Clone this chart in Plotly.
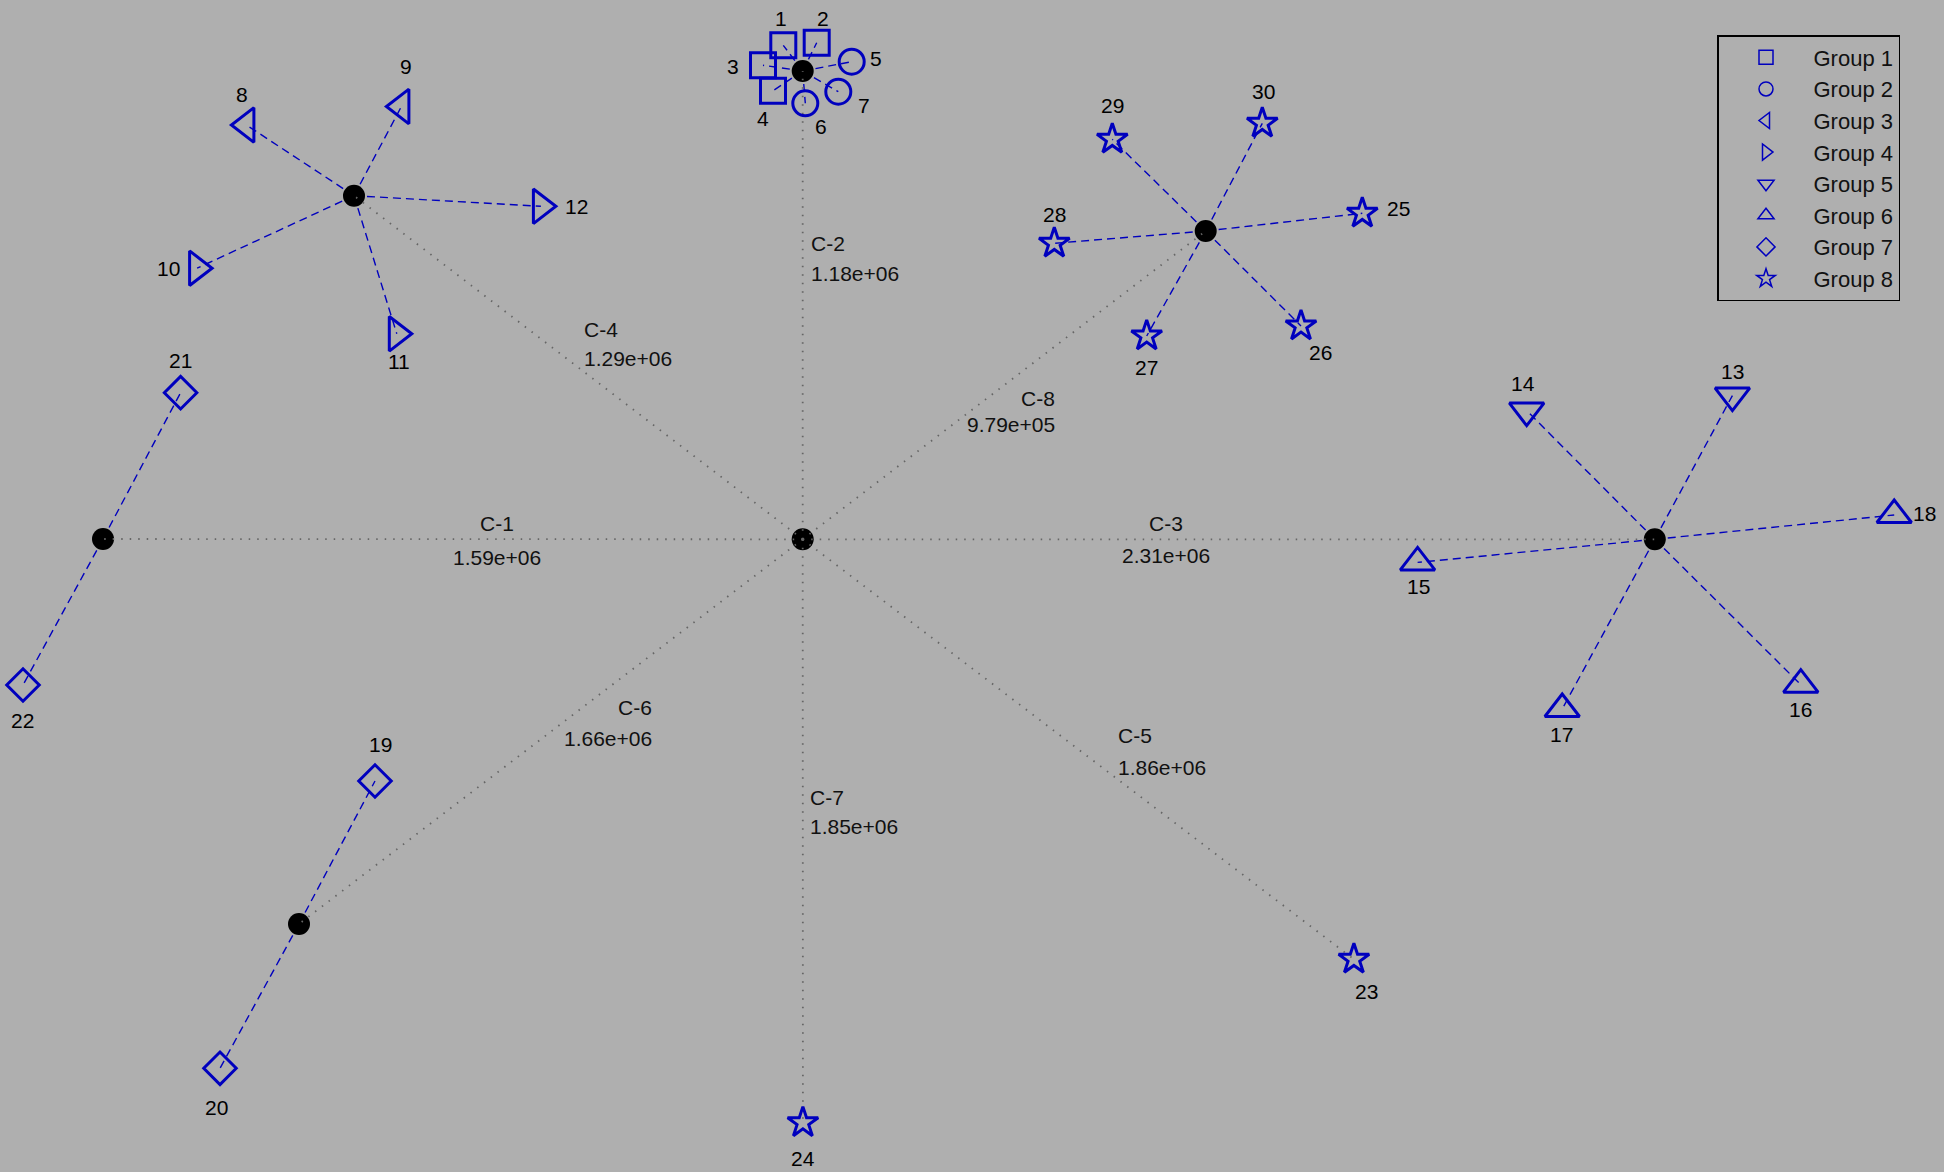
import plotly.graph_objects as go

# ---------------- data ----------------
point_ids = list(range(1, 31))
point_group = [1, 1, 1, 1, 2, 2, 2, 3, 3, 4, 4, 4, 5, 5, 6, 6, 6, 6,
               7, 7, 7, 7, 8, 8, 8, 8, 8, 8, 8, 8]
point_x = [783.3, 816.7, 763.0, 773.0, 851.7, 805.3, 838.3,
           246.4, 401.4, 197.1, 396.8, 540.9,
           1732.4, 1526.7, 1417.6, 1800.8, 1562.2, 1894.2,
           375.0, 220.0, 180.6, 23.0,
           1353.9, 802.9, 1362.3, 1301.0, 1146.7, 1054.3, 1112.3, 1262.3]
point_y = [45.3, 42.7, 65.3, 90.7, 61.7, 103.3, 91.7,
           125.0, 106.5, 268.2, 333.8, 206.3,
           395.6, 410.6, 562.4, 684.7, 709.0, 515.0,
           781.0, 1068.3, 392.7, 685.0,
           959.3, 1122.7, 213.3, 326.0, 336.0, 243.3, 139.3, 123.3]

cluster_names = ["C-1", "C-2", "C-3", "C-4", "C-5", "C-6", "C-7", "C-8"]
cluster_members = [[21, 22], [1, 2, 3, 4, 5, 6, 7], [13, 14, 15, 16, 17, 18],
                   [8, 9, 10, 11, 12], [23], [19, 20], [24],
                   [25, 26, 27, 28, 29, 30]]
cluster_x = [103.0, 802.7, 1654.8, 354.0, 1353.9, 299.0, 802.9, 1205.7]
cluster_y = [539.0, 71.0, 539.3, 195.7, 959.3, 924.0, 1122.7, 231.0]
cluster_dist = ["1.59e+06", "1.18e+06", "2.31e+06", "1.29e+06",
                "1.86e+06", "1.66e+06", "1.85e+06", "9.79e+05"]
center_x = [802.7]
center_y = [539.3]

group_names = ["Group %d" % k for k in range(1, 9)]

# ---------------- styles ----------------
BLUE = "#0000BE"
BG = "#AFAFAF"
FONT = "Liberation Sans, Arial, sans-serif"
FS = 21
group_symbol = {1: "square-open", 2: "circle-open", 3: "triangle-left-open",
                4: "triangle-right-open", 5: "triangle-down-open",
                6: "triangle-up-open", 7: "diamond-open", 8: "star-open"}
group_size = {1: 25, 2: 25, 3: 30, 4: 30, 5: 30, 6: 30, 7: 25, 8: 23}
# label offsets (px, right / down) for point number labels
label_offset = [(-2, -27), (6, -24), (-30, 1), (-10, 28), (24, -3), (16, 23), (26, 14),
                (-4, -31), (5, -40), (-29, 0), (2, 28), (36, 0),
                (0, -24), (-4, -27), (1, 24), (0, 25), (-1, 25), (30, -2),
                (5, -37), (-4, 39), (0, -32), (-1, 35),
                (13, 32), (0, 36), (36, -5), (19, 26), (0, 31), (0, -29), (0, -34), (1, -32)]
# cluster label anchors: (x, y of first row, y of second row, align)
cluster_label_pos = [(497, 523, 557, "center"), (809, 243, 273, "left"),
                     (1166, 523, 555, "center"), (582, 329, 358, "left"),
                     (1116, 735, 767, "left"), (654, 707, 738, "right"),
                     (808, 797, 826, "left"), (1057, 398, 424, "right")]

fig = go.Figure()

# dashed member lines
lx, ly = [], []
for ci, members in enumerate(cluster_members):
    if len(members) < 2:
        continue
    for m in members:
        i = point_ids.index(m)
        lx += [cluster_x[ci], point_x[i], None]
        ly += [cluster_y[ci], point_y[i], None]
fig.add_trace(go.Scatter(x=lx, y=ly, mode="lines", showlegend=False, hoverinfo="skip",
                         line=dict(color=BLUE, width=1.4, dash="8px,5px")))

# centroid dots
cx = [cluster_x[i] for i, m in enumerate(cluster_members) if len(m) > 1] + center_x
cy = [cluster_y[i] for i, m in enumerate(cluster_members) if len(m) > 1] + center_y
fig.add_trace(go.Scatter(x=cx, y=cy, mode="markers", showlegend=False, hoverinfo="skip",
                         marker=dict(symbol="circle", size=22, color="black",
                                     line=dict(width=0))))

# dotted lines from the center
dx, dy = [], []
for i in range(len(cluster_names)):
    dx += [center_x[0], cluster_x[i], None]
    dy += [center_y[0], cluster_y[i], None]
fig.add_trace(go.Scatter(x=dx, y=dy, mode="lines", showlegend=False, hoverinfo="skip",
                         line=dict(color="#666666", width=1.8, dash="1.5px,7px")))

# group markers
for g in range(1, 9):
    idx = [i for i, gg in enumerate(point_group) if gg == g]
    fig.add_trace(go.Scatter(
        x=[point_x[i] for i in idx], y=[point_y[i] for i in idx],
        mode="markers", name=group_names[g - 1], showlegend=False,
        text=[str(point_ids[i]) for i in idx],
        marker=dict(symbol=group_symbol[g], size=group_size[g], color=BLUE,
                    line=dict(color=BLUE, width=3))))
# legend entries (thin, small symbols as in the reference legend)
for g in range(1, 9):
    fig.add_trace(go.Scatter(
        x=[None], y=[None], mode="markers", name=group_names[g - 1], showlegend=True,
        marker=dict(symbol=group_symbol[g], size=14, color=BLUE,
                    line=dict(color=BLUE, width=1.5))))

annotations = []
for i, pid in enumerate(point_ids):
    ox, oy = label_offset[i]
    annotations.append(dict(x=point_x[i], y=point_y[i], text=str(pid), showarrow=False,
                            xshift=ox, yshift=-oy, font=dict(size=FS, color="black", family=FONT)))
for i, name in enumerate(cluster_names):
    x, y1, y2, al = cluster_label_pos[i]
    for txt, yy in ((name, y1), (cluster_dist[i], y2)):
        annotations.append(dict(x=x, y=yy, text=txt, showarrow=False, xanchor=al,
                                yanchor="middle", font=dict(size=FS, color="#111111", family=FONT)))

fig.update_layout(
    width=1944, height=1172,
    margin=dict(l=0, r=0, t=0, b=0),
    paper_bgcolor=BG, plot_bgcolor=BG,
    xaxis=dict(range=[0, 1944], visible=False, fixedrange=True),
    yaxis=dict(range=[1172, 0], visible=False, fixedrange=True),
    annotations=annotations,
    showlegend=True,
    legend=dict(x=1717 / 1944, y=1 - 35 / 1172, xanchor="left", yanchor="top",
                bgcolor="rgba(0,0,0,0)", bordercolor="black", borderwidth=1.5,
                font=dict(size=FS + 1, color="#111111", family=FONT),
                itemwidth=85),
)

fig.write_html("out.html")
